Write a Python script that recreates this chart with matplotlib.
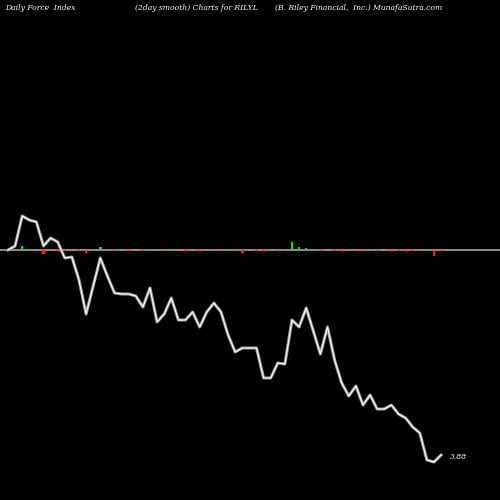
import numpy as np
import matplotlib.pyplot as plt

# closing prices (smoothed), one per session
price = [8.12, 8.20, 8.80, 8.72, 8.68, 8.20, 8.36, 8.28, 7.96, 7.98, 7.52, 6.84, 7.40,
         7.96, 7.60, 7.26, 7.24, 7.24, 7.20, 6.98, 7.36, 6.68, 6.84, 7.16, 6.72, 6.72,
         6.88, 6.58, 6.88, 7.06, 6.88, 6.42, 6.08, 6.16, 6.16, 6.16, 5.56, 5.56, 5.86,
         5.84, 6.72, 6.58, 6.96, 6.50, 6.04, 6.58, 5.92, 5.46, 5.20, 5.40, 5.02, 5.22,
         4.94, 4.94, 5.02, 4.84, 4.76, 4.58, 4.46, 3.92, 3.88, 4.02]
# force index (relative units)
force = [0, 1, 4, 1, 1, -4, 1, -1, -1, 1, -1, -3, 1, 3, 1, -1, 1, -1, 1, -1, 1, 1,
         -1, 1, 1, -1, 1, -1, 1, 1, -1, 1, -1, -3, 1, -1, -1, 1, -1, 1, 8, 3, 2, 1,
         -1, 1, -1, -1, 1, -1, -1, 1, -1, 1, -1, -1, -1, -1, -1, 1, -6, -1]
last_label = "3.88"

n = len(price)
x = np.arange(n)

fig = plt.figure(figsize=(5, 5), dpi=100, facecolor="black")
ax = fig.add_axes([0, 0, 1, 1])
ax.set_facecolor("black")
ax.set_xlim(-8 / 7.1, 492 / 7.1)
ax.set_ylim(3.12, 13.12)
ax.axis("off")

base = 8.12
ax.axhline(base, color="#888888", lw=1.5, zorder=1)
cols = ["#00ee00" if f > 0 else "#ff2020" for f in force]
ax.bar(x, [f * 0.02 for f in force], bottom=base, width=0.35, color=cols, zorder=2)

ax.plot(x, price, color="#999999", lw=2.2, zorder=3)
ax.plot(x, price, color="white", lw=0.8, zorder=4)
ax.text(n + 0.3, 3.88 + 0.1, last_label, color="white", fontsize=5.5,
        family="DejaVu Serif", style="italic", va="center")

hdr = dict(color="white", fontsize=5.5, family="DejaVu Serif", style="italic", va="center")
fig.text(0.01, 0.984, "Daily Force  Index", **hdr)
fig.text(0.27, 0.984, "(2day smooth) Charts for RILYL", **hdr)
fig.text(0.55, 0.984, "(B. Riley Financial,  Inc.) MunafaSutra.com", **hdr)

fig.savefig("out.png", facecolor="black")
